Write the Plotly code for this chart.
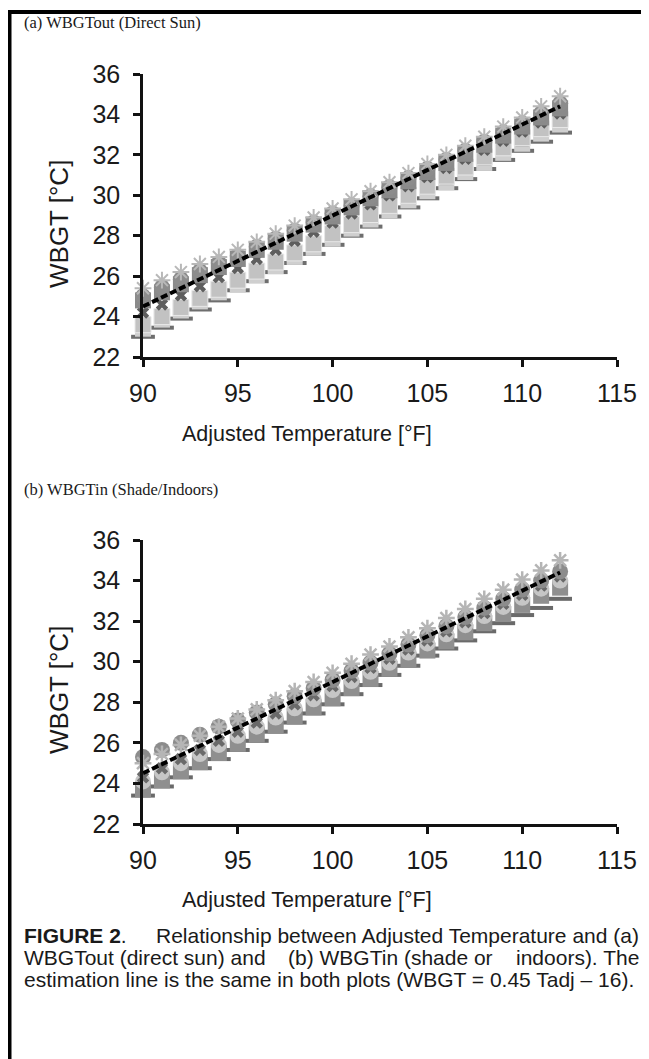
import plotly.graph_objects as go

# page body has an 8px margin, so the figure is drawn 8px smaller and shifted
OFF = 8
W, H = 649 - OFF, 1059 - OFF

temps = list(range(90, 113))

# Estimation line WBGT = 0.45 Tadj - 16 (endpoints)
line_x = [90, 112]
line_y = [24.5, 34.4]

# Panel (a) WBGTout (Direct Sun) - series
a_star   = [25.4, 25.8, 26.2, 26.6, 26.95, 27.3, 27.7, 28.1, 28.5, 28.9, 29.35, 29.8, 30.2, 30.65, 31.1, 31.55, 32.0, 32.45, 32.9, 33.4, 33.85, 34.4, 34.9]
a_circle = [25.0, 25.45, 25.85, 26.25, 26.65, 27.0, 27.45, 27.85, 28.25, 28.65, 29.1, 29.5, 29.95, 30.4, 30.85, 31.3, 31.75, 32.2, 32.65, 33.1, 33.55, 34.05, 34.55]
a_square = [24.8, 25.2, 25.6, 26.05, 26.45, 26.85, 27.3, 27.7, 28.1, 28.55, 28.95, 29.4, 29.85, 30.25, 30.7, 31.15, 31.6, 32.05, 32.5, 32.95, 33.4, 33.85, 34.3]
a_x      = [24.2, 24.6, 25.05, 25.5, 25.95, 26.4, 26.85, 27.3, 27.75, 28.2, 28.65, 29.1, 29.55, 30.0, 30.45, 30.9, 31.35, 31.8, 32.25, 32.7, 33.15, 33.6, 34.05]
a_lsq    = [23.6, 24.0, 24.45, 24.9, 25.35, 25.8, 26.25, 26.7, 27.15, 27.6, 28.1, 28.55, 29.05, 29.5, 30.0, 30.45, 30.95, 31.4, 31.9, 32.35, 32.85, 33.3, 33.75]
a_tri    = [23.4, 23.85, 24.3, 24.75, 25.2, 25.6, 26.05, 26.5, 26.95, 27.4, 27.85, 28.35, 28.8, 29.25, 29.75, 30.2, 30.65, 31.15, 31.6, 32.1, 32.55, 33.05, 33.5]
a_dash   = [23.0, 23.45, 23.9, 24.35, 24.8, 25.3, 25.75, 26.2, 26.65, 27.1, 27.55, 28.0, 28.45, 28.95, 29.4, 29.85, 30.35, 30.8, 31.3, 31.75, 32.2, 32.65, 33.1]

# Panel (b) WBGTin (Shade/Indoors)
b_star   = [25.0, 25.45, 25.9, 26.35, 26.8, 27.2, 27.65, 28.1, 28.55, 29.0, 29.45, 29.9, 30.35, 30.75, 31.2, 31.65, 32.15, 32.6, 33.1, 33.55, 34.05, 34.5, 35.0]
b_circle = [25.3, 25.65, 26.0, 26.4, 26.8, 27.1, 27.5, 27.9, 28.3, 28.7, 29.1, 29.55, 29.95, 30.4, 30.85, 31.3, 31.75, 32.2, 32.65, 33.1, 33.55, 34.0, 34.45]
b_lcirc  = [24.1, 24.55, 25.0, 25.45, 25.9, 26.35, 26.8, 27.25, 27.7, 28.15, 28.6, 29.05, 29.5, 29.95, 30.45, 30.9, 31.35, 31.8, 32.25, 32.7, 33.15, 33.6, 34.0]
b_x      = [24.3, 24.75, 25.2, 25.65, 26.1, 26.55, 27.0, 27.45, 27.9, 28.35, 28.8, 29.25, 29.7, 30.15, 30.6, 31.05, 31.5, 31.95, 32.4, 32.85, 33.3, 33.75, 34.2]
b_square = [23.7, 24.15, 24.6, 25.05, 25.5, 25.95, 26.4, 26.85, 27.3, 27.75, 28.2, 28.7, 29.15, 29.65, 30.1, 30.55, 31.0, 31.45, 31.9, 32.35, 32.8, 33.25, 33.65]
b_dash   = [23.4, 23.85, 24.3, 24.75, 25.2, 25.65, 26.1, 26.55, 27.0, 27.45, 27.9, 28.4, 28.85, 29.35, 29.8, 30.3, 30.65, 31.05, 31.5, 31.9, 32.3, 32.65, 33.1]

x_ticks = [90, 95, 100, 105, 110, 115]
y_ticks = [22, 24, 26, 28, 30, 32, 34, 36]

def px_x(p):
    return (p - OFF) / W

def px_y(p):
    return 1 - (p - OFF) / H

fig = go.Figure()

def add_series(xa, ya, vals, symbol, color, size, line_color=None, line_w=0):
    fig.add_trace(go.Scatter(
        x=temps, y=vals, mode="markers", xaxis=xa, yaxis=ya,
        cliponaxis=False, showlegend=False,
        marker=dict(symbol=symbol, size=size, color=color,
                    line=dict(color=line_color or color, width=line_w)),
    ))

# panel a (bottom-most drawn first)
add_series("x", "y", a_dash, "line-ew-open", "#6e6e6e", 17, "#6e6e6e", 4)
add_series("x", "y", a_tri, "square", "#cfcfcf", 16)
add_series("x", "y", a_tri, "triangle-up", "#b3b3b3", 12)
add_series("x", "y", a_lsq, "square", "#c2c2c2", 16, "#e8e8e8", 1)
add_series("x", "y", a_x, "x", "#5e5e5e", 11)
add_series("x", "y", a_square, "square", "#8a8a8a", 16)
add_series("x", "y", a_circle, "circle", "#8c8c8c", 16)
add_series("x", "y", a_star, "asterisk-open", "#b8b8b8", 14, "#b8b8b8", 2)

# panel b
add_series("x2", "y2", b_dash, "line-ew-open", "#6a6a6a", 17, "#6a6a6a", 4)
add_series("x2", "y2", b_square, "square", "#8f8f8f", 16)
add_series("x2", "y2", b_lcirc, "circle", "#c6c6c6", 16)
add_series("x2", "y2", b_x, "x", "#6a6a6a", 11)
add_series("x2", "y2", b_circle, "circle", "#8c8c8c", 16)
add_series("x2", "y2", b_star, "asterisk-open", "#b5b5b5", 14, "#b5b5b5", 2.5)

for xa, ya in (("x", "y"), ("x2", "y2")):
    fig.add_trace(go.Scatter(
        x=line_x, y=line_y, mode="lines", xaxis=xa, yaxis=ya,
        cliponaxis=False, showlegend=False,
        line=dict(color="black", width=4, dash="7px,3px"),
    ))

axis_font = dict(family="Liberation Sans, Arial", size=25, color="#1a1a1a")
xd = [px_x(143), px_x(617)]
common_x = dict(range=[90, 115], tickvals=x_ticks, showgrid=False, zeroline=False,
                showline=True, linecolor="#111", linewidth=2.5, ticks="outside",
                ticklen=7, tickwidth=2.5, tickcolor="#111", tickfont=axis_font,
                ticklabelstandoff=5, domain=xd, fixedrange=True, automargin=False)
common_y = dict(range=[22, 36], tickvals=y_ticks, showgrid=False, zeroline=False,
                showline=True, linecolor="#111", linewidth=2.5, ticks="outside",
                ticklen=7, tickwidth=2.5, tickcolor="#111", tickfont=axis_font,
                ticklabelstandoff=8, fixedrange=True, automargin=False)

fig.update_layout(
    width=W, height=H, margin=dict(l=0, r=0, t=0, b=0, pad=0, autoexpand=False),
    paper_bgcolor="white", plot_bgcolor="white",
    xaxis=dict(common_x, anchor="y"),
    yaxis=dict(common_y, anchor="x", domain=[px_y(357), px_y(74)]),
    xaxis2=dict(common_x, anchor="y2"),
    yaxis2=dict(common_y, anchor="x2", domain=[px_y(824), px_y(540)]),
)

title_font = dict(family="Liberation Sans, Arial", size=21.5, color="#1a1a1a")
serif = dict(family="Liberation Serif, Times New Roman", size=16.5, color="#1a1a1a")
cap_font = dict(family="Liberation Sans, Arial", size=21, color="#1a1a1a")

ann = []
def A(text, x, y, font, xanchor="center", yanchor="middle", angle=0):
    ann.append(dict(text=text, x=px_x(x), y=px_y(y), xref="paper", yref="paper",
                    showarrow=False, font=font, xanchor=xanchor, yanchor=yanchor,
                    textangle=angle))

A("(a) WBGTout (Direct Sun)", 22, 23, serif, xanchor="left")
A("(b) WBGTin (Shade/Indoors)", 22, 489, serif, xanchor="left")
A("Adjusted Temperature [°F]", 307, 434, title_font)
A("Adjusted Temperature [°F]", 307, 900, title_font)
A("WBGT [°C]", 59, 224, dict(title_font, size=26), angle=-90)
A("WBGT [°C]", 59, 690, dict(title_font, size=26), angle=-90)

A("<b>FIGURE 2</b>.", 22, 935, cap_font, xanchor="left")
A("Relationship between Adjusted Temperature and (a)", 641, 935, cap_font, xanchor="right")
A("WBGTout (direct sun) and", 22, 957, cap_font, xanchor="left")
A("(b) WBGTin (shade or", 390, 957, cap_font, xanchor="center")
A("indoors). The", 641, 957, cap_font, xanchor="right")
A("estimation line is the same in both plots (WBGT = 0.45 Tadj – 16).", 22, 979, cap_font, xanchor="left")

fig.update_layout(annotations=ann)

# frame
fig.add_shape(type="line", xref="paper", yref="paper", x0=px_x(7), x1=1, y0=px_y(12), y1=px_y(12),
              line=dict(color="black", width=4))
fig.add_shape(type="line", xref="paper", yref="paper", x0=px_x(9.5), x1=px_x(9.5), y0=px_y(10), y1=0,
              line=dict(color="black", width=4))

fig.write_html("out.html")
